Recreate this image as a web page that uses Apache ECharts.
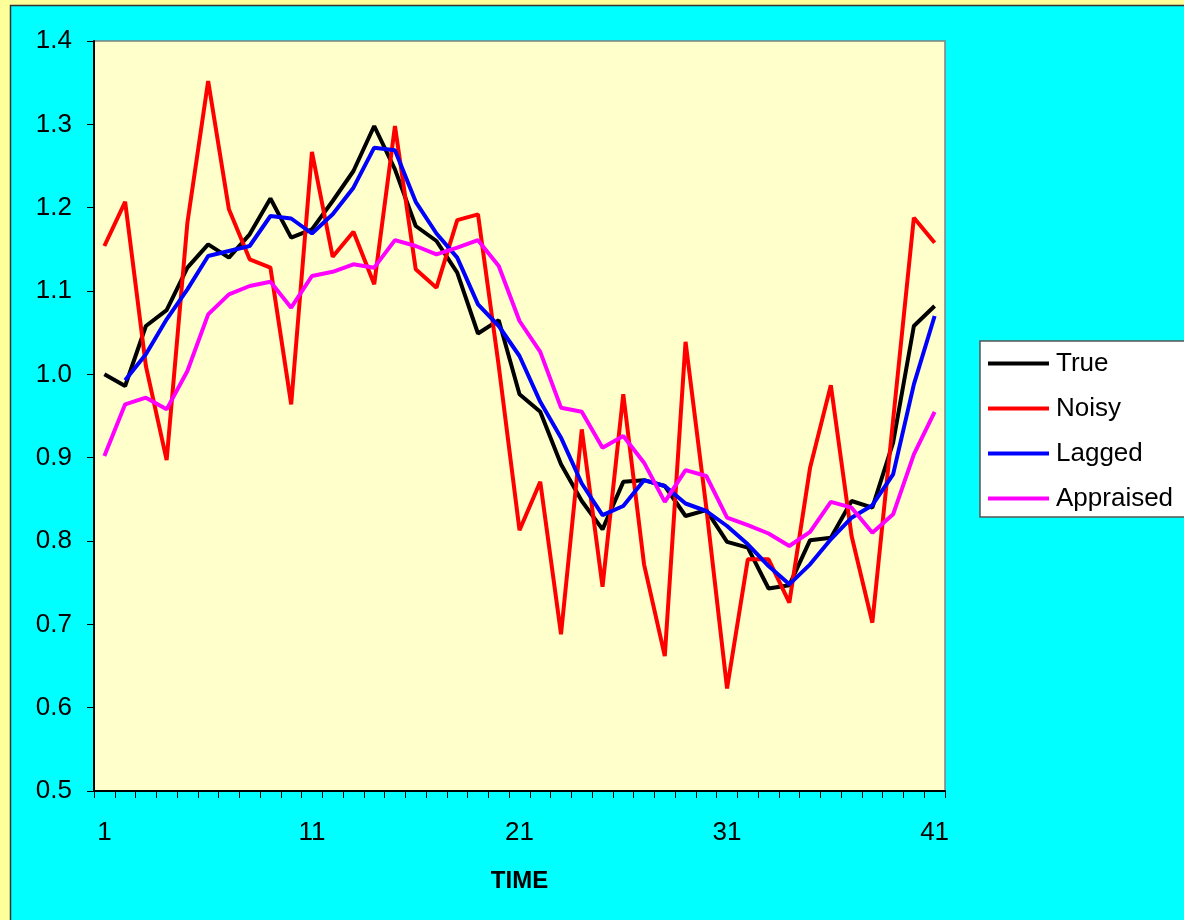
<!DOCTYPE html>
<html>
<head>
<meta charset="utf-8">
<script src="https://cdn.jsdelivr.net/npm/echarts@6/dist/echarts.min.js"></script>
<style>
html,body{margin:0;padding:0;background:#FFFF99;}
#chart{width:1184px;height:920px;}
</style>
</head>
<body>
<div id="chart"></div>
<script>
const categories = Array.from({length: 41}, (_, i) => String(i + 1));
const trueVals = [1.000, 0.986, 1.058, 1.077, 1.128, 1.156, 1.140, 1.168, 1.211, 1.164, 1.174, 1.208, 1.244, 1.298, 1.246, 1.178, 1.160, 1.122, 1.049, 1.065, 0.976, 0.955, 0.892, 0.848, 0.814, 0.871, 0.873, 0.866, 0.830, 0.837, 0.799, 0.792, 0.743, 0.747, 0.801, 0.804, 0.848, 0.840, 0.918, 1.058, 1.082];
const noisyVals = [1.154, 1.207, 1.010, 0.897, 1.182, 1.352, 1.198, 1.138, 1.128, 0.964, 1.267, 1.141, 1.171, 1.108, 1.298, 1.126, 1.104, 1.185, 1.192, 1.010, 0.813, 0.871, 0.688, 0.934, 0.745, 0.976, 0.772, 0.662, 1.039, 0.840, 0.623, 0.778, 0.778, 0.726, 0.888, 0.987, 0.806, 0.702, 0.945, 1.188, 1.158];
const laggedVals = [null, 0.993, 1.024, 1.066, 1.102, 1.142, 1.148, 1.154, 1.190, 1.187, 1.169, 1.192, 1.224, 1.272, 1.269, 1.207, 1.169, 1.140, 1.084, 1.058, 1.022, 0.967, 0.924, 0.869, 0.831, 0.842, 0.873, 0.866, 0.845, 0.836, 0.818, 0.796, 0.770, 0.748, 0.772, 0.802, 0.828, 0.843, 0.880, 0.988, 1.070];
const appraisedVals = [0.902, 0.964, 0.972, 0.958, 1.004, 1.072, 1.096, 1.106, 1.111, 1.080, 1.118, 1.123, 1.132, 1.128, 1.161, 1.154, 1.144, 1.152, 1.161, 1.130, 1.064, 1.027, 0.960, 0.955, 0.912, 0.926, 0.894, 0.847, 0.885, 0.878, 0.828, 0.819, 0.809, 0.794, 0.811, 0.847, 0.840, 0.810, 0.832, 0.904, 0.955];
const seriesNames = ['True', 'Noisy', 'Lagged', 'Appraised'];
const seriesColors = ['#000000', '#FF0000', '#0000FF', '#FF00FF'];
const xAxisTitle = 'TIME';

const FONT = '"Liberation Sans", Arial, sans-serif';
const chart = echarts.init(document.getElementById('chart'), null, {renderer: 'canvas'});
const dataSets = [trueVals, noisyVals, laggedVals, appraisedVals];

chart.setOption({
  backgroundColor: '#FFFF99',
  animation: false,
  textStyle: {fontFamily: FONT},
  graphic: {
    elements: [{
      type: 'rect', z: -100, silent: true,
      shape: {x: 10.5, y: 5.5, width: 1300, height: 1000},
      style: {fill: '#00FFFF', stroke: '#333333', lineWidth: 1.5}
    }]
  },
  grid: {
    left: 94, top: 41, width: 851, height: 750,
    show: true, backgroundColor: '#FFFFCC', borderColor: '#808080', borderWidth: 1.5
  },
  legend: {
    orient: 'vertical', left: 980, top: 341,
    data: seriesNames.map(n => ({name: n, icon: 'rect'})),
    backgroundColor: '#FFFFFF', borderColor: '#555555', borderWidth: 1.5,
    padding: [9, 12, 5, 8],
    itemWidth: 61, itemHeight: 4, itemGap: 18,
    textStyle: {fontSize: 26, color: '#000', fontFamily: FONT, lineHeight: 27, padding: [0, 0, 0, 2]}
  },
  xAxis: {
    type: 'category', data: categories, boundaryGap: true,
    name: xAxisTitle, nameLocation: 'middle', nameGap: 78,
    nameTextStyle: {fontSize: 24, fontWeight: 'bold', color: '#000', fontFamily: FONT},
    axisLine: {lineStyle: {color: '#000', width: 2}},
    axisTick: {show: true, interval: 0, alignWithLabel: false, length: 7, lineStyle: {color: '#000'}},
    axisLabel: {interval: 9, fontSize: 26, color: '#000', margin: 29, fontFamily: FONT},
    splitLine: {show: false}
  },
  yAxis: {
    type: 'value', min: 0.5, max: 1.4, interval: 0.1,
    axisLine: {show: true, lineStyle: {color: '#000', width: 2}},
    axisTick: {show: true, length: 7, lineStyle: {color: '#000'}},
    axisLabel: {fontSize: 26, color: '#000', margin: 22, fontFamily: FONT,
      formatter: v => v.toFixed(1)},
    splitLine: {show: false}
  },
  series: seriesNames.map((n, i) => ({
    name: n, type: 'line', data: dataSets[i],
    symbol: 'none', showSymbol: false,
    color: seriesColors[i],
    itemStyle: {color: seriesColors[i]},
    lineStyle: {color: seriesColors[i], width: 4},
    connectNulls: false
  }))
});
</script>
</body>
</html>
